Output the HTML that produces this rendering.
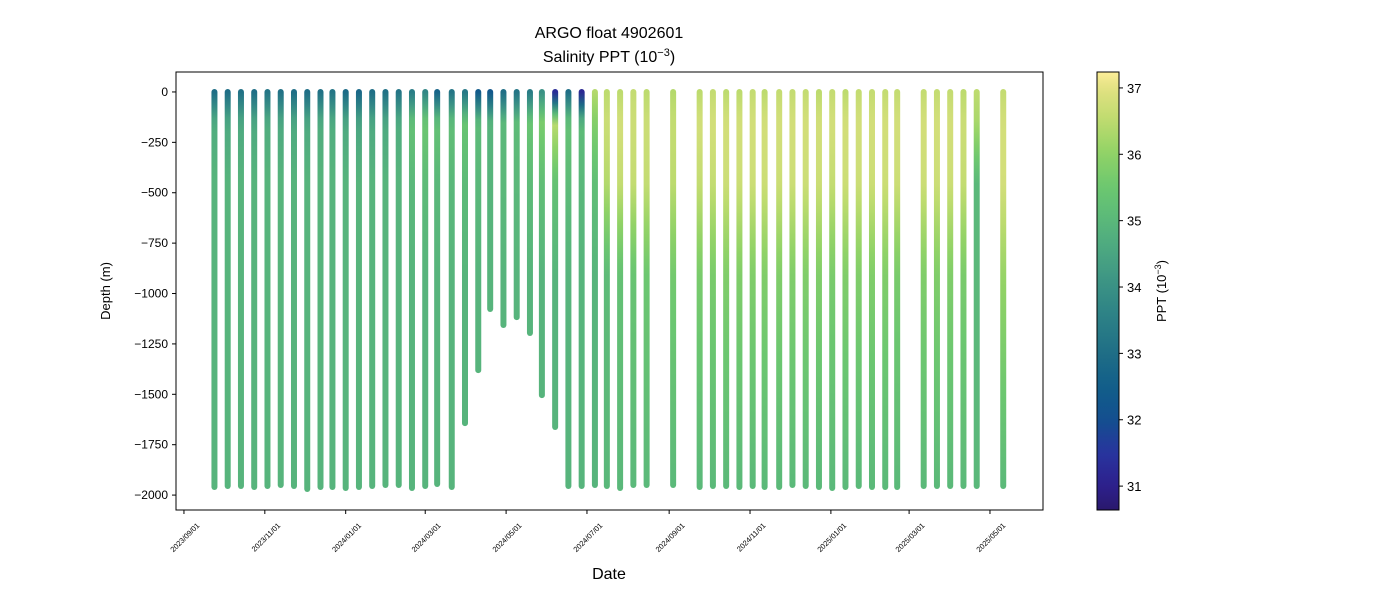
<!DOCTYPE html>
<html><head><meta charset="utf-8"><style>
body{margin:0;background:#fff}
text{font-family:"Liberation Sans","DejaVu Sans",sans-serif;fill:#000}
</style></head><body>
<svg id="chart" width="1400" height="600" viewBox="0 0 1400 600" xmlns="http://www.w3.org/2000/svg">
<defs id="defs"></defs>
<text x="609" y="38" font-size="16" text-anchor="middle">ARGO float 4902601</text>
<text x="609" y="62" font-size="16" text-anchor="middle">Salinity PPT (10<tspan baseline-shift="super" font-size="11">−3</tspan>)</text>
<g id="profiles"></g>
<rect x="176" y="72" width="867" height="438" fill="none" stroke="#000" stroke-width="1"/>
<g id="yaxis"></g>
<g id="xaxis"></g>
<text transform="translate(110,291) rotate(-90)" font-size="13" text-anchor="middle">Depth (m)</text>
<text x="609" y="579" font-size="16" text-anchor="middle">Date</text>
<rect id="cbar" x="1097" y="72" width="22" height="438" stroke="#000" stroke-width="1"/>
<g id="cbaxis"></g>
<text transform="translate(1166,291) rotate(-90)" font-size="13" text-anchor="middle">PPT (10<tspan baseline-shift="super" font-size="9">−3</tspan>)</text>
</svg>
<script>
// days since 2023-09-01
const profileDay=[23,33,43,53,63,73,83,93,103,112,122,132,142,152,162,172,182,191,202,212,222,231,241,251,261,270,280,290,300,310,319,329,339,349,369,389,399,409,419,429,438,449,459,469,479,489,499,509,519,529,538,558,568,578,588,598,618];
const profileMaxDepth=[1960,1955,1955,1960,1955,1950,1955,1970,1960,1960,1965,1960,1955,1950,1950,1965,1955,1945,1960,1643,1380,1077,1156,1117,1196,1504,1662,1955,1955,1950,1955,1965,1950,1950,1950,1960,1955,1955,1960,1955,1960,1960,1950,1955,1960,1965,1960,1955,1960,1960,1960,1955,1955,1955,1955,1955,1955];
const depthLevels=[0,150,450,900,2000];
const sal0=[33.0,33.0,33.1,33.0,33.2,33.1,33.0,33.0,33.1,33.2,32.9,32.8,33.0,33.1,33.2,33.4,33.7,32.7,33.2,33.3,32.4,32.3,33.0,33.2,33.4,34.0,31.3,33.0,31.2,36.4,36.5,36.5,36.6,36.5,36.4,36.5,36.6,36.5,36.5,36.6,36.5,36.6,36.6,36.6,36.5,36.6,36.5,36.6,36.6,36.6,36.6,36.6,36.6,36.6,36.5,36.5,36.6];
const sal150=[34.7,34.6,34.6,34.6,34.7,34.6,34.6,34.6,34.7,34.7,34.6,34.5,34.6,34.6,34.7,35.3,35.5,35.3,35.2,35.4,35.1,34.9,35.0,35.1,35.4,35.7,36.5,35.3,35.1,35.8,36.7,36.8,36.7,36.7,36.6,36.8,36.8,36.8,36.8,36.8,36.8,36.8,36.8,36.8,36.8,36.8,36.8,36.8,36.8,36.8,36.8,36.8,36.8,36.8,36.7,36.3,36.8];
const sal450=[34.9,34.9,34.9,34.9,34.9,34.9,34.9,34.9,34.9,34.9,34.9,34.9,34.9,34.9,34.9,35.0,35.1,35.0,35.0,35.1,35.0,34.9,35.0,35.0,35.1,35.2,35.3,35.1,35.0,35.2,36.4,36.6,36.6,36.6,36.5,36.6,36.6,36.7,36.7,36.7,36.7,36.7,36.7,36.7,36.7,36.6,36.7,36.7,36.7,36.7,36.7,36.7,36.7,36.7,36.6,35.0,36.8];
const sal900=[34.9,34.9,34.9,34.9,34.9,34.9,34.9,34.9,34.9,34.9,34.9,34.9,34.9,34.9,34.9,34.9,34.9,34.9,34.9,34.9,34.9,34.9,34.9,34.9,34.9,34.9,34.9,34.9,34.9,34.9,35.1,35.3,35.4,35.5,35.6,35.7,35.7,35.8,35.8,35.8,35.8,35.8,35.8,35.8,35.8,35.7,35.8,35.8,35.8,35.8,35.7,35.8,35.8,35.8,35.7,35.0,36.1];
const salDeep=[34.9,34.9,34.9,34.9,34.9,34.9,34.9,34.9,34.9,34.9,34.9,34.9,34.9,34.9,34.9,34.9,34.9,34.9,34.9,34.9,34.9,34.9,34.9,34.9,34.9,34.9,34.9,34.9,34.9,34.9,35.0,35.0,35.0,35.0,35.0,35.0,35.0,35.0,35.0,35.0,35.0,35.0,35.0,35.0,35.0,35.0,35.0,35.0,35.0,35.0,35.0,35.0,35.0,35.0,35.0,35.0,35.0];
const yTicks=[0,-250,-500,-750,-1000,-1250,-1500,-1750,-2000];
const xTickLabels=["2023/09/01","2023/11/01","2024/01/01","2024/03/01","2024/05/01","2024/07/01","2024/09/01","2024/11/01","2025/01/01","2025/03/01","2025/05/01"];
const cbTicks=[31,32,33,34,35,36,37];

const NS="http://www.w3.org/2000/svg";
const X0=176,X1=1043,Y0=72,Y1=510;
const dMin=-6,dMax=648, zMax=99,zMin=-2074;
const vMin=30.64,vMax=37.24;
const epoch=Date.UTC(2023,8,1);
function xs(d){return X0+(d-dMin)/(dMax-dMin)*(X1-X0);}
function ys(z){return Y0+(zMax-z)/(zMax-zMin)*(Y1-Y0);}
const cmap=[[30.64,[42,24,108]],[31.0,[45,32,140]],[31.5,[40,52,158]],[32.0,[19,79,143]],[32.5,[18,94,138]],[33.0,[31,110,134]],[33.5,[43,127,134]],[34.0,[58,145,133]],[34.5,[74,165,130]],[35.0,[90,184,122]],[35.5,[108,199,112]],[36.0,[143,210,102]],[36.5,[189,219,110]],[37.0,[226,225,130]],[37.24,[253,238,153]]];
function color(v){if(v<=cmap[0][0])return 'rgb(42,24,108)';
for(let i=1;i<cmap.length;i++){if(v<=cmap[i][0]){const a=cmap[i-1],b=cmap[i];const f=(v-a[0])/(b[0]-a[0]);
return 'rgb('+a[1].map((c,k)=>Math.round(c+(b[1][k]-c)*f)).join(',')+')';}}return 'rgb(253,238,153)';}
function interp(levels,vals,z){for(let i=1;i<levels.length;i++){if(z<=levels[i]){const f=(z-levels[i-1])/(levels[i]-levels[i-1]);return vals[i-1]+(vals[i]-vals[i-1])*f;}}return vals[vals.length-1];}
const svg=document.getElementById('chart'),defs=document.getElementById('defs');
function el(t,a,p){const e=document.createElementNS(NS,t);for(const k in a)e.setAttribute(k,a[k]);(p||svg).appendChild(e);return e;}
const cg=el('linearGradient',{id:'cbg',x1:0,y1:1,x2:0,y2:0},defs);
for(let i=0;i<=40;i++){const v=vMin+(vMax-vMin)*i/40;el('stop',{offset:i/40,'stop-color':color(v)},cg);}
document.getElementById('cbar').setAttribute('fill','url(#cbg)');
const pg=document.getElementById('profiles');
profileDay.forEach((d,i)=>{
  const md=profileMaxDepth[i],vals=[sal0[i],sal150[i],sal450[i],sal900[i],salDeep[i]];
  const x=xs(d),yt=ys(0),yb=ys(-md);
  const g=el('linearGradient',{id:'pg'+i,gradientUnits:'userSpaceOnUse',x1:x,y1:yt,x2:x,y2:yb},defs);
  const N=30;for(let k=0;k<=N;k++){const z=md*k/N;el('stop',{offset:k/N,'stop-color':color(interp(depthLevels,vals,z))},g);}
  const ln=el('line',{x1:x,y1:yt,x2:x,y2:yb,stroke:'url(#pg'+i+')','stroke-width':6,'stroke-linecap':'round'},pg);
  
  
});
const ya=document.getElementById('yaxis');
yTicks.forEach(v=>{const y=ys(v);
  el('line',{x1:X0-4,y1:y,x2:X0,y2:y,stroke:'#000'},ya);
  const t=el('text',{x:X0-8,y:y+4,'font-size':12,'text-anchor':'end'},ya);t.textContent=String(v).replace('-','−');
  
  });
const xa=document.getElementById('xaxis');
xTickLabels.forEach(s=>{const p=s.split('/');const d=(Date.UTC(+p[0],+p[1]-1,+p[2])-epoch)/86400000;const x=xs(d);
  el('line',{x1:x,y1:Y1,x2:x,y2:Y1+4,stroke:'#000'},xa);
  const t=el('text',{transform:'translate('+(x+16)+','+(Y1+16)+') rotate(-45)','font-size':7.5,'text-anchor':'end'},xa);t.textContent=s;
  
  });
const ca=document.getElementById('cbaxis');
cbTicks.forEach(v=>{const y=Y1-(v-vMin)/(vMax-vMin)*(Y1-Y0);
  el('line',{x1:1119,y1:y,x2:1123,y2:y,stroke:'#000'},ca);
  const t=el('text',{x:1127,y:y+5,'font-size':13},ca);t.textContent=v;
  
  });
</script>
</body></html>
